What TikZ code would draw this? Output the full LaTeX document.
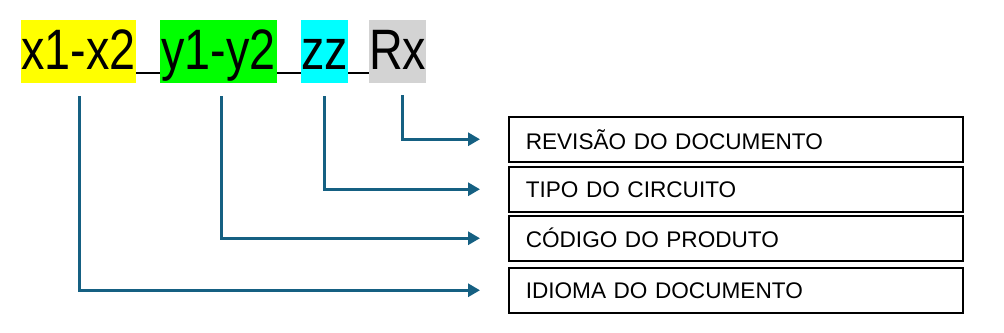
\documentclass[tikz,border=0pt]{standalone}
\usepackage{fontspec}
\setmainfont{Liberation Sans}
\usetikzlibrary{arrows.meta,calc}
\definecolor{conncol}{HTML}{156082}
\definecolor{gbox}{HTML}{D3D3D3}
\definecolor{ybox}{HTML}{FFFF00}
\definecolor{grbox}{HTML}{00FF00}
\definecolor{cbox}{HTML}{00FFFF}
\tikzset{
  part/.style={anchor=base west,inner xsep=0pt,inner ysep=0pt,text height=49pt,text depth=14pt,
    font=\fontsize{57pt}{60pt}\selectfont},
  infobox/.style={draw=black,line width=1.5pt,anchor=north west,minimum width=454pt,minimum height=45pt,
    text width=420pt,inner xsep=17pt,align=left,font=\fontsize{22.6pt}{26pt}\selectfont},
  conn/.style={draw=conncol,line width=3pt,-{Triangle[length=12pt,width=13pt]}},
  uline/.style={draw=black,line width=2pt}
}
\newcommand{\sq}[1]{\scalebox{0.82}[1]{#1}}
\begin{document}
\begin{tikzpicture}[x=1pt,y=-1pt]
\useasboundingbox (0,0) rectangle (1004,332);
% code parts
\node[part,fill=ybox,minimum width=115pt] (xb) at (21,69) {\sq{x1-x2}};
\node[part,fill=grbox,minimum width=117pt] (yb) at (160,69) {\sq{y1-y2}};
\node[part,fill=cbox,minimum width=45pt] (zb) at (301,69) {\sq{zz}};
\node[part,fill=gbox,minimum width=55pt] (rb) at (369,69) {\sq{Rx}};
% underscores
\draw[uline] (xb.east |- 0,72.5) -- (yb.west |- 0,72.5);
\draw[uline] (yb.east |- 0,72.5) -- (zb.west |- 0,72.5);
\draw[uline] (zb.east |- 0,72.5) -- (rb.west |- 0,72.5);
% info boxes
\node[infobox] (b1) at (508,116) {REVISÃO DO DOCUMENTO};
\node[infobox] (b2) at (508,166) {TIPO DO CIRCUITO};
\node[infobox] (b3) at (508,215) {CÓDIGO DO PRODUTO};
\node[infobox] (b4) at (508,267) {IDIOMA DO DOCUMENTO};
% connector start points
\coordinate (cx) at (79,96);
\coordinate (cy) at (221,96);
\coordinate (cz) at (324,96);
\coordinate (cr) at (402,95);
\draw[conn] (cr) |- ([xshift=-28pt]b1.west);
\draw[conn] (cz) |- ([xshift=-28pt]b2.west);
\draw[conn] (cy) |- ([xshift=-28pt]b3.west);
\draw[conn] (cx) |- ([xshift=-28pt]b4.west);
\end{tikzpicture}
\end{document}
